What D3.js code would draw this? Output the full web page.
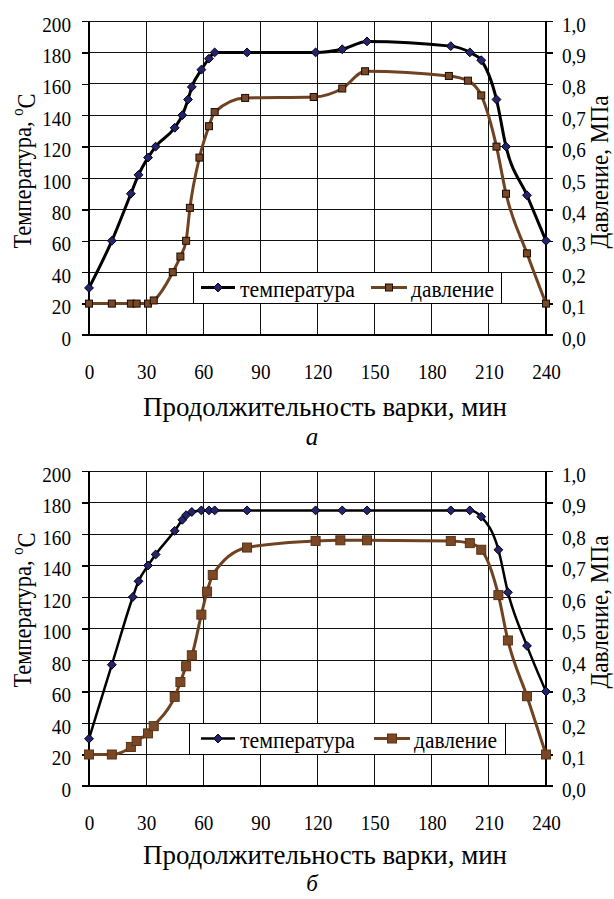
<!DOCTYPE html>
<html>
<head>
<meta charset="utf-8">
<script src="https://cdn.jsdelivr.net/npm/d3@7"></script>
<style>
  body { margin: 0; background: #fff; }
</style>
</head>
<body>
<div id="chart"></div>
<script>
// tick labels
const xTicks = [0, 30, 60, 90, 120, 150, 180, 210, 240];
const tempTicks = [0, 20, 40, 60, 80, 100, 120, 140, 160, 180, 200];
const pressTicks = [0, 0.1, 0.2, 0.3, 0.4, 0.5, 0.6, 0.7, 0.8, 0.9, 1.0];

// panel "а"
const tempTimeA = [0, 12, 22, 26, 31, 35, 45, 49, 52, 54, 59, 63, 66, 83, 119, 133, 146, 190, 200, 206, 214, 219, 230, 240];
const tempValA = [30, 60, 90, 102, 113, 120, 132, 140, 150, 158, 169, 176, 180, 180, 180, 182, 187, 184, 180, 175, 150, 120, 89, 60];
const pressTimeA = [0, 12, 22, 25, 31, 34, 44, 48, 51, 53, 58, 63, 66, 82, 118, 133, 145, 189, 199, 206, 214, 219, 230, 240];
const pressValA = [0.1, 0.1, 0.1, 0.1, 0.1, 0.11, 0.2, 0.25, 0.3, 0.405, 0.565, 0.665, 0.71, 0.755, 0.758, 0.785, 0.84, 0.825, 0.81, 0.763, 0.6, 0.45, 0.26, 0.1];

// panel "б"
const tempTimeB = [0, 12, 23, 26, 31, 35, 45, 49, 51, 54, 59, 63, 66, 83, 119, 133, 146, 190, 200, 206, 215, 220, 230, 240];
const tempValB = [30, 77, 120, 130, 140, 147, 162, 169, 172, 174, 175, 175, 175, 175, 175, 175, 175, 175, 175, 171, 150, 123, 89, 60];
const pressTimeB = [0, 12, 22, 25, 31, 34, 45, 48, 51, 54, 59, 62, 65, 83, 119, 132, 146, 190, 200, 206, 215, 220, 230, 240];
const pressValB = [0.1, 0.1, 0.124, 0.143, 0.167, 0.19, 0.283, 0.33, 0.38, 0.415, 0.544, 0.617, 0.67, 0.757, 0.778, 0.78, 0.78, 0.778, 0.771, 0.75, 0.606, 0.462, 0.285, 0.1];

const svgWidth = 614;
const svgHeight = 899;
const plotLeft = 89;
const plotRight = 546;
const serif = "'Liberation Serif', 'DejaVu Serif', 'Times New Roman', Times, serif";

const tempColor = "#000";
const diamondFill = "#23236f";
const pressColor = "#6f4222";
const squareFill = "#7a4824";

const svg = d3.select("#chart")
  .append("svg")
  .attr("width", svgWidth)
  .attr("height", svgHeight)
  .style("font-family", serif);

const xScale = d3.scaleLinear().domain([0, 240]).range([plotLeft, plotRight]);

const diamond = d3.symbol().type(d3.symbolDiamond2);

const label = (sel, size) => sel.attr("font-family", null)
  .style("font-family", serif).style("font-size", size + "px").attr("fill", "#000");

// the reference text is set narrow: squeeze each label to a share of its natural width
const condense = (sel, factor) => sel.each(function () {
  const w = this.getComputedTextLength();
  d3.select(this).attr("textLength", w * factor).attr("lengthAdjust", "spacingAndGlyphs");
});
const fitTo = (sel, width) => sel.attr("textLength", width).attr("lengthAdjust", "spacingAndGlyphs");

const drawPanel = panel => {
  const g = svg.append("g");
  const yTemp = d3.scaleLinear().domain([0, 200]).range([panel.bottom, panel.top]);
  const yPress = d3.scaleLinear().domain([0, 1]).range([panel.bottom, panel.top]);

  // grid
  g.selectAll(".hgrid").data(tempTicks).enter().append("line")
    .attr("x1", plotLeft).attr("x2", plotRight)
    .attr("y1", d => yTemp(d)).attr("y2", d => yTemp(d))
    .attr("stroke", "#111").attr("stroke-width", 1)
    .attr("shape-rendering", "crispEdges");
  g.selectAll(".vgrid").data(xTicks).enter().append("line")
    .attr("x1", d => xScale(d)).attr("x2", d => xScale(d))
    .attr("y1", panel.top).attr("y2", panel.bottom)
    .attr("stroke", "#111").attr("stroke-width", 1)
    .attr("shape-rendering", "crispEdges");

  // left axis
  const leftAxis = d3.axisLeft(yTemp).tickValues(tempTicks).tickSize(7).tickPadding(11)
    .tickFormat(d3.format("d"));
  const la = g.append("g").attr("transform", `translate(${plotLeft},0)`).call(leftAxis);
  la.attr("font-family", null);
  condense(label(la.selectAll("text"), 22).attr("dy", "10px"), 0.87);
  la.selectAll("line, path").attr("stroke", "#000").attr("stroke-width", 1.5).attr("shape-rendering", "crispEdges");
  la.select(".domain").attr("d", `M0,${panel.top}V${panel.bottom}`);

  // right axis
  const rightAxis = d3.axisRight(yPress).tickValues(pressTicks).tickSize(7).tickPadding(9)
    .tickFormat(d => d3.format(".1f")(d).replace(".", ","));
  const ra = g.append("g").attr("transform", `translate(${plotRight},0)`).call(rightAxis);
  ra.attr("font-family", null);
  condense(label(ra.selectAll("text"), 22).attr("dy", "10px"), 0.87);
  ra.selectAll("line, path").attr("stroke", "#000").attr("stroke-width", 1.5).attr("shape-rendering", "crispEdges");
  ra.select(".domain").attr("d", `M0,${panel.top}V${panel.bottom}`);

  // bottom axis labels
  const bottomAxis = d3.axisBottom(xScale).tickValues(xTicks).tickSize(0).tickPadding(0);
  const ba = g.append("g").attr("transform", `translate(0,${panel.bottom})`).call(bottomAxis);
  ba.attr("font-family", null);
  condense(label(ba.selectAll("text"), 22).attr("y", 44).attr("dy", null), 0.87);
  ba.select(".domain").attr("d", `M${plotLeft - 7},0H${plotRight + 7}`)
    .attr("stroke", "#000").attr("stroke-width", 1.5).attr("shape-rendering", "crispEdges");

  // titles
  fitTo(label(g.append("text"), 27), 364)
    .attr("x", 325).attr("y", panel.bottom + panel.titleDy)
    .attr("text-anchor", "middle")
    .text("Продолжительность варки, мин");
  label(g.append("text"), panel.captionSize)
    .attr("x", 312).attr("y", panel.bottom + panel.captionDy)
    .attr("text-anchor", "middle").style("font-style", "italic")
    .text(panel.caption);

  const leftTitle = label(g.append("text"), 26)
    .attr("transform", `translate(31,${panel.leftTitleY}) rotate(-90)`)
    .attr("text-anchor", "middle");
  leftTitle.append("tspan").text("Температура, ");
  leftTitle.append("tspan").attr("dy", "-0.45em").style("font-size", "17px").text("o");
  leftTitle.append("tspan").attr("dy", "0.45em").text("C");
  fitTo(leftTitle, 155);

  fitTo(label(g.append("text"), 26), 153)
    .attr("transform", `translate(608,${panel.rightTitleY}) rotate(-90)`)
    .attr("text-anchor", "middle")
    .text("Давление, МПа");

  // lines
  const tempData = panel.tempTime.map((t, i) => ({ t, v: panel.tempVal[i] }));
  const pressData = panel.pressTime.map((t, i) => ({ t, v: panel.pressVal[i] }));

  const tempLine = d3.line().x(d => xScale(d.t)).y(d => yTemp(d.v)).curve(d3.curveMonotoneX);
  const pressLine = d3.line().x(d => xScale(d.t)).y(d => yPress(d.v)).curve(d3.curveMonotoneX);

  g.append("path").datum(pressData).attr("d", pressLine)
    .attr("fill", "none").attr("stroke", pressColor).attr("stroke-width", panel.pressWidth);
  g.append("path").datum(tempData).attr("d", tempLine)
    .attr("fill", "none").attr("stroke", tempColor).attr("stroke-width", panel.tempWidth);

  g.selectAll(".sq").data(pressData).enter().append("rect")
    .attr("x", d => xScale(d.t) - panel.squareSize / 2)
    .attr("y", d => yPress(d.v) - panel.squareSize / 2)
    .attr("width", panel.squareSize).attr("height", panel.squareSize)
    .attr("fill", squareFill).attr("stroke", panel.squareStroke).attr("stroke-width", 1);

  g.selectAll(".dm").data(tempData).enter().append("path")
    .attr("d", diamond.size(panel.diamondArea))
    .attr("transform", d => `translate(${xScale(d.t)},${yTemp(d.v)})`)
    .attr("fill", diamondFill).attr("stroke", "#000").attr("stroke-width", 1);

  // legend
  const lg = panel.legend;
  const ly = panel.bottom - 63;
  g.append("rect")
    .attr("x", lg.x).attr("y", ly).attr("width", lg.w).attr("height", 31)
    .attr("fill", "#fff").attr("stroke", "#000").attr("stroke-width", 1)
    .attr("shape-rendering", "crispEdges");
  const cy = ly + 15.5;
  g.append("line").attr("x1", lg.s1[0]).attr("x2", lg.s1[1]).attr("y1", cy).attr("y2", cy)
    .attr("stroke", tempColor).attr("stroke-width", panel.tempWidth);
  g.append("path").attr("d", diamond.size(panel.diamondArea))
    .attr("transform", `translate(${(lg.s1[0] + lg.s1[1]) / 2},${cy})`)
    .attr("fill", diamondFill).attr("stroke", "#000");
  fitTo(label(g.append("text"), 24), 115).attr("x", lg.s1[1] + 5).attr("y", cy + 9.5)
    .text("температура");
  g.append("line").attr("x1", lg.s2[0]).attr("x2", lg.s2[1]).attr("y1", cy).attr("y2", cy)
    .attr("stroke", pressColor).attr("stroke-width", panel.pressWidth);
  g.append("rect")
    .attr("x", (lg.s2[0] + lg.s2[1]) / 2 - panel.squareSize / 2).attr("y", cy - panel.squareSize / 2)
    .attr("width", panel.squareSize).attr("height", panel.squareSize)
    .attr("fill", squareFill).attr("stroke", panel.squareStroke);
  fitTo(label(g.append("text"), 24), 83).attr("x", lg.s2[1] + 4).attr("y", cy + 9.5)
    .text("давление");
};

drawPanel({
  top: 21, bottom: 335, caption: "а", leftTitleY: 171, rightTitleY: 172,
  titleDy: 81, captionDy: 110, captionSize: 25,
  tempTime: tempTimeA, tempVal: tempValA, pressTime: pressTimeA, pressVal: pressValA,
  tempWidth: 3, pressWidth: 3, squareSize: 7, squareStroke: "#1a0d05", diamondArea: 50,
  legend: { x: 193, w: 308, s1: [201, 235], s2: [371, 407] }
});

drawPanel({
  top: 471, bottom: 786, caption: "б", leftTitleY: 610, rightTitleY: 612,
  titleDy: 78, captionDy: 105, captionSize: 23,
  tempTime: tempTimeB, tempVal: tempValB, pressTime: pressTimeB, pressVal: pressValB,
  tempWidth: 2.5, pressWidth: 3, squareSize: 9, squareStroke: "#5a3216", diamondArea: 50,
  legend: { x: 189, w: 316, s1: [201, 235], s2: [374, 410] }
});
</script>
</body>
</html>
